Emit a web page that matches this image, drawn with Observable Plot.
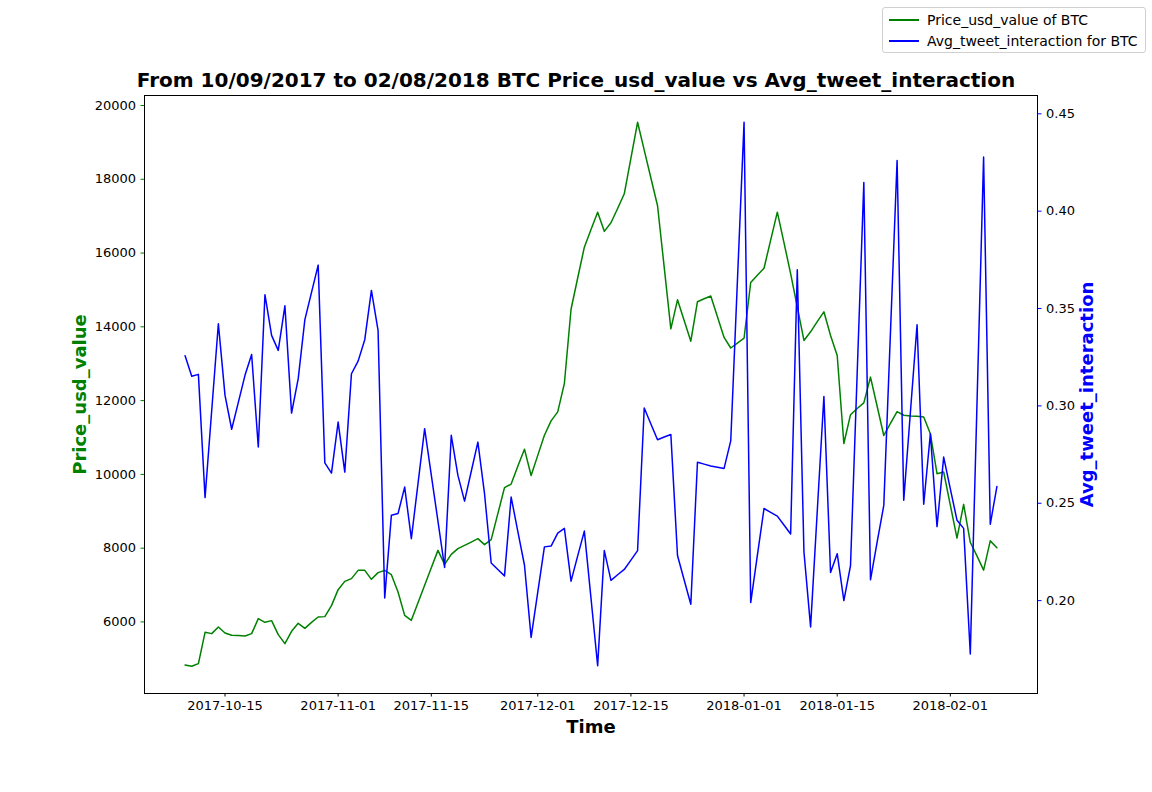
<!DOCTYPE html>
<html>
<head>
<meta charset="utf-8">
<script src="https://cdn.jsdelivr.net/npm/d3@7"></script>
<script src="https://cdn.jsdelivr.net/npm/@observablehq/plot@0.6"></script>
<style>
  body { margin: 0; background: #fff; font-family: "DejaVu Sans", sans-serif; }
  #wrap { position: relative; width: 1152px; height: 792px; }
  #wrap svg { position: absolute; left: 0; top: 0; }
  #title { position: absolute; left: 0; width: 1152px; top: 70px; text-align: center;
           font: bold 20px "DejaVu Sans", sans-serif; line-height: 20px; color: #000; }
  #legend { position: absolute; left: 882px; top: 7px; width: 262px; height: 44px;
            border: 1px solid #d0d0d0; border-radius: 3px; background: rgba(255,255,255,0.8);
            font: 14px "DejaVu Sans", sans-serif; color: #000; }
  .item { position: absolute; left: 0; height: 20px; line-height: 20px; }
  .swatch { position: absolute; left: 6px; top: 9px; width: 30px; height: 0; border-top: 2px solid; }
  .lab { position: absolute; left: 44px; top: 0; white-space: nowrap; }
</style>
</head>
<body>
<div id="wrap">
  <div id="title">From 10/09/2017 to 02/08/2018 BTC Price_usd_value vs Avg_tweet_interaction</div>
  <div id="legend"></div>
</div>
<script>
// ---------- data ----------
const dates = [
  "2017-10-09","2017-10-10","2017-10-11","2017-10-12","2017-10-13","2017-10-14","2017-10-15","2017-10-16",
  "2017-10-17","2017-10-18","2017-10-19","2017-10-20","2017-10-21","2017-10-22","2017-10-23","2017-10-24",
  "2017-10-25","2017-10-26","2017-10-27","2017-10-28","2017-10-29","2017-10-30","2017-10-31",
  "2017-11-01","2017-11-02","2017-11-03","2017-11-04","2017-11-05","2017-11-06","2017-11-07","2017-11-08",
  "2017-11-09","2017-11-10","2017-11-11","2017-11-12","2017-11-13","2017-11-14","2017-11-15","2017-11-16",
  "2017-11-17","2017-11-18","2017-11-19","2017-11-20","2017-11-21","2017-11-22","2017-11-23","2017-11-24",
  "2017-11-25","2017-11-26","2017-11-27","2017-11-28","2017-11-29","2017-11-30",
  "2017-12-01","2017-12-02","2017-12-03","2017-12-04","2017-12-05","2017-12-06","2017-12-07","2017-12-08",
  "2017-12-09","2017-12-10","2017-12-11","2017-12-12","2017-12-13","2017-12-14","2017-12-15","2017-12-16",
  "2017-12-17","2017-12-18","2017-12-19","2017-12-20","2017-12-21","2017-12-22","2017-12-23","2017-12-24",
  "2017-12-25","2017-12-26","2017-12-27","2017-12-28","2017-12-29","2017-12-30","2017-12-31",
  "2018-01-01","2018-01-02","2018-01-03","2018-01-04","2018-01-05","2018-01-06","2018-01-07","2018-01-08",
  "2018-01-09","2018-01-10","2018-01-11","2018-01-12","2018-01-13","2018-01-14","2018-01-15","2018-01-16",
  "2018-01-17","2018-01-18","2018-01-19","2018-01-20","2018-01-21","2018-01-22","2018-01-23","2018-01-24",
  "2018-01-25","2018-01-26","2018-01-27","2018-01-28","2018-01-29","2018-01-30","2018-01-31",
  "2018-02-01","2018-02-02","2018-02-03","2018-02-04","2018-02-05","2018-02-06","2018-02-07","2018-02-08"
];

const priceUsd = [
  4832,4797,4870,5718,5683,5862,5699,5637,5629,5618,
  5683,6090,5989,6035,5656,5412,5745,5962,5827,5989,
  6133,6144,6442,6875,7100,7174,7398,7398,7155,7336,
  7398,7282,6810,6179,6043,6518,6992,7466,7940,7561,
  7832,7987,8076,8165,8258,8095,8230,8935,9640,9737,
  10220,10683,9970,10515,11062,11450,11694,12469,14477,15323,
  16160,16640,17108,16588,16821,17209,17607,18575,19545,18789,
  18035,17282,15618,13946,14732,14173,13610,14680,14762,14835,
  14274,13713,13426,13558,13691,15201,15396,15588,16352,17108,
  16282,15444,14539,13631,13865,14141,14407,13764,13222,10837,
  11618,11786,11940,12637,11848,11054,11382,11699,11604,11585,
  11577,11558,11100,10019,10065,9168,8274,9187,8160,7789,
  7404,8198,8011
];

const avgTweet = [
  0.3258,0.3152,0.3162,0.2529,0.2976,0.3422,0.3054,0.2880,0.3018,0.3157,
  0.3264,0.2789,0.3571,0.3362,0.3285,0.3514,0.2963,0.3140,0.3443,0.3583,
  0.3723,0.2707,0.2655,0.2917,0.2660,0.3165,0.3230,0.3340,0.3593,0.3388,
  0.2014,0.2438,0.2447,0.2583,0.2318,0.2601,0.2883,0.2645,0.2408,0.2170,
  0.2849,0.2643,0.2511,0.2663,0.2814,0.2549,0.2193,0.2160,0.2127,0.2532,
  0.2356,0.2183,0.1811,0.2044,0.2276,0.2280,0.2347,0.2371,0.2100,0.2230,
  0.2357,0.2012,0.1666,0.2257,0.2104,0.2133,0.2160,0.2208,0.2257,0.2989,
  0.2907,0.2826,0.2840,0.2853,0.2232,0.2106,0.1981,0.2711,0.2701,0.2691,
  0.2685,0.2679,0.2820,0.3639,0.4456,0.1990,0.2232,0.2473,0.2453,0.2434,
  0.2388,0.2342,0.3699,0.2251,0.1865,0.2458,0.3048,0.2144,0.2241,0.2000,
  0.2180,0.3166,0.4147,0.2107,0.2300,0.2489,0.3375,0.4260,0.2516,0.2967,
  0.3417,0.2495,0.2857,0.2380,0.2737,0.2574,0.2413,0.2371,0.1726,0.3002,
  0.4278,0.2392,0.2586
];

const xTickLabels = ["2017-10-15","2017-11-01","2017-11-15","2017-12-01","2017-12-15","2018-01-01","2018-01-15","2018-02-01"];
const priceTicks = [6000, 8000, 10000, 12000, 14000, 16000, 18000, 20000];
const tweetTicks = [0.20, 0.25, 0.30, 0.35, 0.40, 0.45];

const seriesNames = ["Price_usd_value of BTC", "Avg_tweet_interaction for BTC"];
const seriesColors = ["green", "blue"];
const axisLabels = { x: "Time", yLeft: "Price_usd_value", yRight: "Avg_tweet_interaction" };

// ---------- tables ----------
const parse = d3.utcParse("%Y-%m-%d");
const priceData = dates.map((d, i) => ({ date: parse(d), value: priceUsd[i] }));
const tweetData = dates.map((d, i) => ({ date: parse(d), value: avgTweet[i] }));
const xTicks = xTickLabels.map(parse);

const day = 864e5;
const xDomain = [new Date(parse(dates[0]) - 6.1 * day), new Date(+parse(dates[dates.length - 1]) + 6.1 * day)];

const common = {
  width: 1152, height: 792,
  marginTop: 95, marginRight: 115, marginBottom: 99, marginLeft: 144,
};

const chart1 = Plot.plot({
  ...common,
  style: { fontFamily: "DejaVu Sans", fontSize: "13px", color: "#000", background: "transparent" },
  x: { type: "utc", domain: xDomain, axis: null },
  y: { domain: [4060, 20271], axis: null },
  marks: [
    Plot.frame({ stroke: "#000", strokeWidth: 1 }),
    Plot.axisX({ ticks: xTicks, tickFormat: d3.utcFormat("%Y-%m-%d"), tickSize: 3.5, tickPadding: 4, label: null, fontSize: 13 }),
    Plot.axisY({ ticks: priceTicks, tickFormat: d => String(d), tickSize: 3.5, tickPadding: 5, stroke: "green", fill: "#000", label: null, fontSize: 13 }),
    Plot.lineY(priceData, { x: "date", y: "value", stroke: seriesColors[0], strokeWidth: 1.5 }),
    Plot.text([axisLabels.x], { text: d => d, frameAnchor: "bottom", dy: 34, lineAnchor: "middle", fontSize: 18, fontWeight: "bold", fill: "#000" }),
    Plot.text([axisLabels.yLeft], { text: d => d, frameAnchor: "left", dx: -64, rotate: -90, textAnchor: "middle", lineAnchor: "middle", fontSize: 18, fontWeight: "bold", fill: seriesColors[0] })
  ]
});

const chart2 = Plot.plot({
  ...common,
  style: { fontFamily: "DejaVu Sans", fontSize: "13px", color: "#000", background: "transparent" },
  x: { type: "utc", domain: xDomain, axis: null },
  y: { domain: [0.1523, 0.4594], axis: null },
  marks: [
    Plot.axisY({ anchor: "right", ticks: tweetTicks, tickFormat: d3.format(".2f"), tickSize: 3.5, tickPadding: 5, stroke: "blue", fill: "#000", label: null, fontSize: 13 }),
    Plot.lineY(tweetData, { x: "date", y: "value", stroke: seriesColors[1], strokeWidth: 1.5 }),
    Plot.text([axisLabels.yRight], { text: d => d, frameAnchor: "right", dx: 50, rotate: -90, textAnchor: "middle", lineAnchor: "middle", fontSize: 18, fontWeight: "bold", fill: seriesColors[1] })
  ]
});

const wrap = document.getElementById("wrap");
wrap.insertBefore(chart2, wrap.firstChild);
wrap.insertBefore(chart1, wrap.firstChild);

// legend
const legend = document.getElementById("legend");
seriesNames.forEach((name, i) => {
  const item = document.createElement("div");
  item.className = "item";
  item.style.top = (2 + i * 21) + "px";
  item.style.width = "100%";
  const sw = document.createElement("div");
  sw.className = "swatch";
  sw.style.borderTopColor = seriesColors[i];
  const lab = document.createElement("div");
  lab.className = "lab";
  lab.textContent = name;
  item.appendChild(sw);
  item.appendChild(lab);
  legend.appendChild(item);
});
</script>
</body>
</html>
